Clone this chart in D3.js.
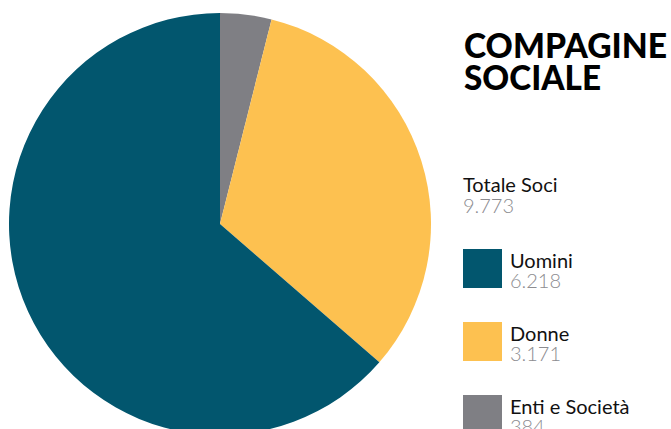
<!DOCTYPE html>
<html>
<head>
<meta charset="utf-8">
<script src="https://cdn.jsdelivr.net/npm/d3@7"></script>
<style>
  body { margin: 0; background: #fff; }
  svg { display: block; font-family: Lato, 'Open Sans', sans-serif; }
</style>
</head>
<body>
<svg id="chart" width="671" height="429"></svg>
<script>
const labels = ['Enti e Società', 'Donne', 'Uomini'];
const values = [384, 3171, 6218];
const valueTexts = ['384', '3.171', '6.218'];
const colors = ['#7f7f84', '#fdc150', '#02566e'];
const legendOrder = ['Uomini', 'Donne', 'Enti e Società'];
const totalLabel = 'Totale Soci';
const totalText = '9.773';

(function () {
  const svg = d3.select('#chart');
  const cx = 220, cy = 224, r = 211;

  const pie = d3.pie().sort(null).value(function (d) { return d; });
  const arc = d3.arc().innerRadius(0).outerRadius(r);
  const color = d3.scaleOrdinal().domain(labels).range(colors);

  svg.append('g')
    .attr('transform', 'translate(' + cx + ',' + cy + ')')
    .selectAll('path')
    .data(pie(values))
    .enter()
    .append('path')
    .attr('d', arc)
    .attr('fill', function (d, i) { return color(labels[i]); });

  // title, squeezed to the reference width
  svg.append('text')
    .attr('x', 464).attr('y', 58)
    .attr('font-size', 35).attr('font-weight', 900).attr('fill', '#000')
    .attr('textLength', 203).attr('lengthAdjust', 'spacingAndGlyphs')
    .text('COMPAGINE');
  svg.append('text')
    .attr('x', 464).attr('y', 90)
    .attr('font-size', 35).attr('font-weight', 900).attr('fill', '#000')
    .attr('textLength', 137).attr('lengthAdjust', 'spacingAndGlyphs')
    .text('SOCIALE');

  // total
  svg.append('text').attr('x', 463).attr('y', 192)
    .attr('font-size', 20).attr('font-weight', 400).attr('fill', '#111')
    .text(totalLabel);
  svg.append('text').attr('x', 463).attr('y', 213)
    .attr('font-size', 20).attr('font-weight', 300).attr('fill', '#8c8c90')
    .text(totalText);

  // legend
  const legend = svg.append('g')
    .selectAll('g')
    .data(legendOrder)
    .enter()
    .append('g')
    .attr('transform', function (d, i) { return 'translate(463,' + (249 + i * 73) + ')'; });

  legend.append('rect')
    .attr('width', 39).attr('height', 39)
    .attr('fill', function (d) { return color(d); });
  legend.append('text')
    .attr('x', 47).attr('y', 19)
    .attr('font-size', 20).attr('font-weight', 400).attr('fill', '#111')
    .text(function (d) { return d; });
  legend.append('text')
    .attr('x', 47).attr('y', 39)
    .attr('font-size', 20).attr('font-weight', 300).attr('fill', '#8c8c90')
    .text(function (d) { return valueTexts[labels.indexOf(d)]; });
})();
</script>
</body>
</html>
